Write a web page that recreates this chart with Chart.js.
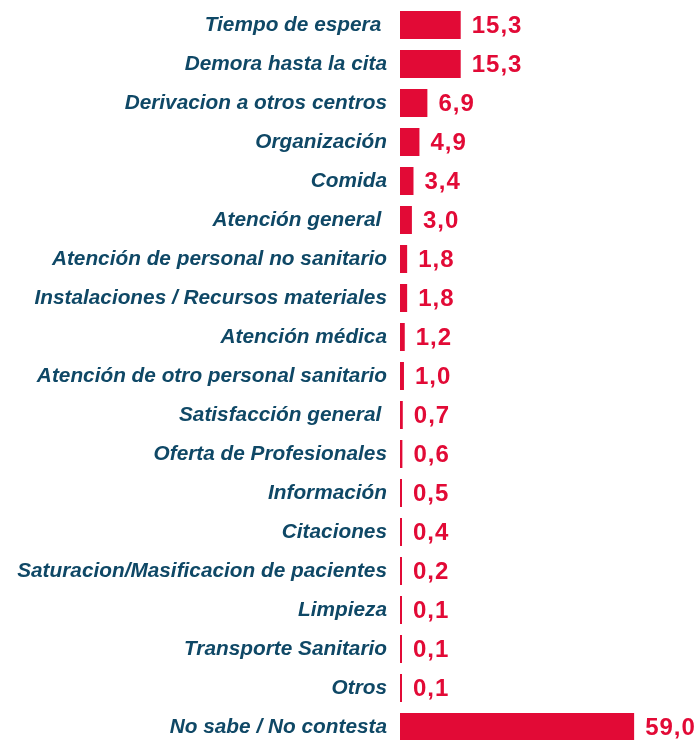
<!DOCTYPE html>
<html>
<head>
<meta charset="utf-8">
<script src="https://cdn.jsdelivr.net/npm/chart.js@4/dist/chart.umd.min.js"></script>
<style>
  html, body { margin: 0; padding: 0; background: #fff; overflow: hidden; }
  #wrap { width: 700px; height: 750px; }
</style>
</head>
<body>
<div id="wrap"><canvas id="chart" width="700" height="750"></canvas></div>
<script>
// Motivos de reclamación (%)
const categories = [
    'Tiempo de espera ',
    'Demora hasta la cita',
    'Derivacion a otros centros',
    'Organización',
    'Comida',
    'Atención general ',
    'Atención de personal no sanitario',
    'Instalaciones / Recursos materiales',
    'Atención médica',
    'Atención de otro personal sanitario',
    'Satisfacción general ',
    'Oferta de Profesionales',
    'Información',
    'Citaciones',
    'Saturacion/Masificacion de pacientes',
    'Limpieza',
    'Transporte Sanitario',
    'Otros',
    'No sabe / No contesta'
];
const values = [15.3, 15.3, 6.9, 4.9, 3.4, 3.0, 1.8, 1.8, 1.2, 1.0, 0.7, 0.6, 0.5, 0.4, 0.2, 0.1, 0.1, 0.1, 59.0];

const BAR_COLOR = '#e20a36';
const LABEL_COLOR = '#0f4866';

// Etiquetas de valor a la derecha de cada barra
const valueLabels = {
    id: 'valueLabels',
    afterDatasetsDraw(chart) {
        const ctx = chart.ctx;
        const meta = chart.getDatasetMeta(0);
        ctx.save();
        ctx.font = 'bold 24px "Liberation Sans", Arial, sans-serif';
        ctx.letterSpacing = '1px';
        ctx.fillStyle = BAR_COLOR;
        ctx.textAlign = 'left';
        ctx.textBaseline = 'middle';
        meta.data.forEach((bar, i) => {
            const txt = values[i].toFixed(1).replace('.', ',');
            ctx.fillText(txt, bar.x + 11, bar.y + 1);
        });
        ctx.restore();
    }
};

new Chart(document.getElementById('chart').getContext('2d'), {
    type: 'bar',
    data: {
        labels: categories,
        datasets: [{
            data: values,
            backgroundColor: BAR_COLOR,
            borderWidth: 0,
            minBarLength: 2,
            barPercentage: 0.72,
            categoryPercentage: 1
        }]
    },
    options: {
        indexAxis: 'y',
        responsive: false,
        animation: false,
        layout: { padding: { top: 5.5, bottom: 3.5, left: 0, right: 0 } },
        plugins: {
            legend: { display: false },
            tooltip: { enabled: false }
        },
        scales: {
            x: {
                display: false,
                min: 0,
                max: 75.6
            },
            y: {
                afterFit(scale) {
                    scale.width = 400;
                    scale.paddingTop = 0;
                    scale.paddingBottom = 0;
                },
                grid: { display: false, drawTicks: false },
                border: { display: false },
                ticks: {
                    padding: 13,
                    color: LABEL_COLOR,
                    font: { family: '"Liberation Sans", Arial, sans-serif', size: 20.8, style: 'italic', weight: 'bold' }
                }
            }
        }
    },
    plugins: [valueLabels]
});
</script>
</body>
</html>
